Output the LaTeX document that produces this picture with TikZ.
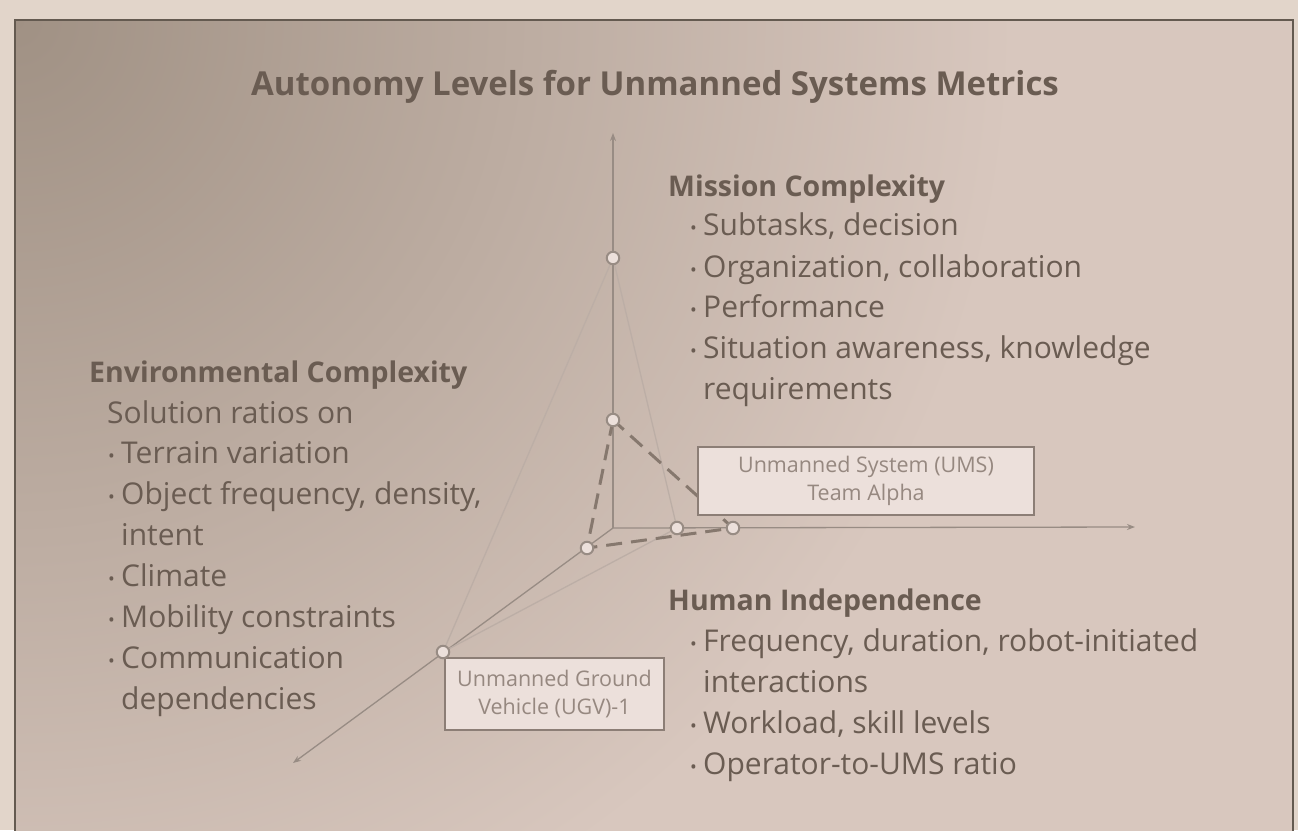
\documentclass[tikz,border=0pt]{standalone}
\usepackage{fontspec}
\setmainfont{Open Sans}
\usetikzlibrary{arrows.meta}
\definecolor{outerbg}{RGB}{226,213,202}
\definecolor{innerbg}{RGB}{216,199,190}
\definecolor{darkbg}{RGB}{160,145,132}
\definecolor{framecol}{RGB}{100,90,80}
\definecolor{txt}{RGB}{106,92,82}
\definecolor{axiscol}{RGB}{152,140,132}
\definecolor{faintcol}{RGB}{188,174,166}
\definecolor{dashcol}{RGB}{134,120,110}
\definecolor{boxfill}{RGB}{236,224,219}
\definecolor{boxdraw}{RGB}{140,126,118}
\definecolor{boxtxt}{RGB}{150,136,128}
\newcommand{\mybul}{\makebox[13pt][l]{\raisebox{1pt}{\fontsize{18}{18}\selectfont •}}}
\begin{document}
\begin{tikzpicture}[x=1pt,y=-1pt,
  bodytext/.style={anchor=base west, inner sep=0pt, text=txt, font=\fontsize{30}{36}\selectfont},
  headtext/.style={anchor=base west, inner sep=0pt, text=txt, font=\bfseries\fontsize{28.5}{34}\selectfont},
  titletext/.style={anchor=base, inner sep=0pt, text=txt, font=\bfseries\fontsize{33}{40}\selectfont},
  axisline/.style={draw=axiscol, line width=1.3pt, -{Stealth[length=8pt,width=6pt]}},
  faintline/.style={draw=faintcol, line width=1.3pt},
  dashline/.style={draw=dashcol, line width=3pt, dash pattern=on 16pt off 9pt},
  labelbox/.style={draw=boxdraw, fill=boxfill, line width=1.8pt, align=center, text=boxtxt, inner sep=0pt, font=\fontsize{21.5}{28.5}\selectfont},
  dot/.style={circle, draw=axiscol, fill=boxfill, line width=2pt, minimum size=12.5pt, inner sep=0pt}]
\useasboundingbox (0,0) rectangle (1298,830);
% background
\fill[outerbg] (0,0) rectangle (1298,830);
\begin{scope}
  \clip (15,20) rectangle (1293,840);
  \fill[innerbg] (15,20) rectangle (1293,840);
  \shade[inner color=darkbg, outer color=innerbg] (15,20) circle (1000);
\end{scope}
\draw[framecol, line width=2.5pt] (15,840) -- (15,20) -- (1293,20) -- (1293,840);

% title
\node[titletext] (title) at (655,95) {Autonomy Levels for Unmanned Systems Metrics};

% axes
\coordinate (O) at (613,528);
\coordinate (ztip) at (613,133);
\coordinate (xtip) at (1135,527);
\coordinate (ytip) at (293,763);
\draw[axisline] (O) -- (ztip);
\draw[axisline] (O) -- (xtip);
\draw[axisline] (O) -- (ytip);

% points
\coordinate (m1) at (613,258);
\coordinate (m2) at (613,420);
\coordinate (e1) at (443,652);
\coordinate (e2) at (587,548);
\coordinate (h1) at (677,528);
\coordinate (h2) at (733,528);

% faint large triangle
\draw[faintline] (m1) -- (e1) -- (h1) -- cycle;

% dashed triangle
\draw[dashline] (m2) -- (e2) -- (h2) -- cycle;

% boxes
\node[labelbox, minimum width=336pt, minimum height=68pt] (ums) at (866,481) {Unmanned System (UMS)\\Team Alpha};
\node[labelbox, minimum width=219pt, minimum height=72pt] (ugv) at (554.5,694) {Unmanned Ground\\Vehicle (UGV)-1};

% dots
\foreach \p in {m1,m2,e1,e2,h1,h2} \node[dot] (d\p) at (\p) {};

% Mission complexity
\node[headtext] (mh) at (668,196) {Mission Complexity};
\node[bodytext] (mt1) at (690,235) {\mybul Subtasks, decision};
\node[bodytext] (mt2) at (690,277) {\mybul Organization, collaboration};
\node[bodytext] (mt3) at (690,317) {\mybul Performance};
\node[bodytext] (mt4) at (690,358) {\mybul Situation awareness, knowledge};
\node[bodytext] (mt5) at (703,399) {requirements};

% Environmental complexity
\node[headtext] (eh) at (89,382) {Environmental Complexity};
\node[bodytext] (et0) at (107,423) {Solution ratios on};
\node[bodytext] (et1) at (108,463) {\mybul Terrain variation};
\node[bodytext] (et2) at (108,504) {\mybul Object frequency, density,};
\node[bodytext] (et3) at (121,545) {intent};
\node[bodytext] (et4) at (108,586) {\mybul Climate};
\node[bodytext] (et5) at (108,627) {\mybul Mobility constraints};
\node[bodytext] (et6) at (108,668) {\mybul Communication};
\node[bodytext] (et7) at (121,709) {dependencies};

% Human independence
\node[headtext] (hh) at (668,610) {Human Independence};
\node[bodytext] (ht1) at (690,651) {\mybul Frequency, duration, robot-initiated};
\node[bodytext] (ht2) at (703,692) {interactions};
\node[bodytext] (ht3) at (690,733) {\mybul Workload, skill levels};
\node[bodytext] (ht4) at (690,774) {\mybul Operator-to-UMS ratio};
\end{tikzpicture}
\end{document}
